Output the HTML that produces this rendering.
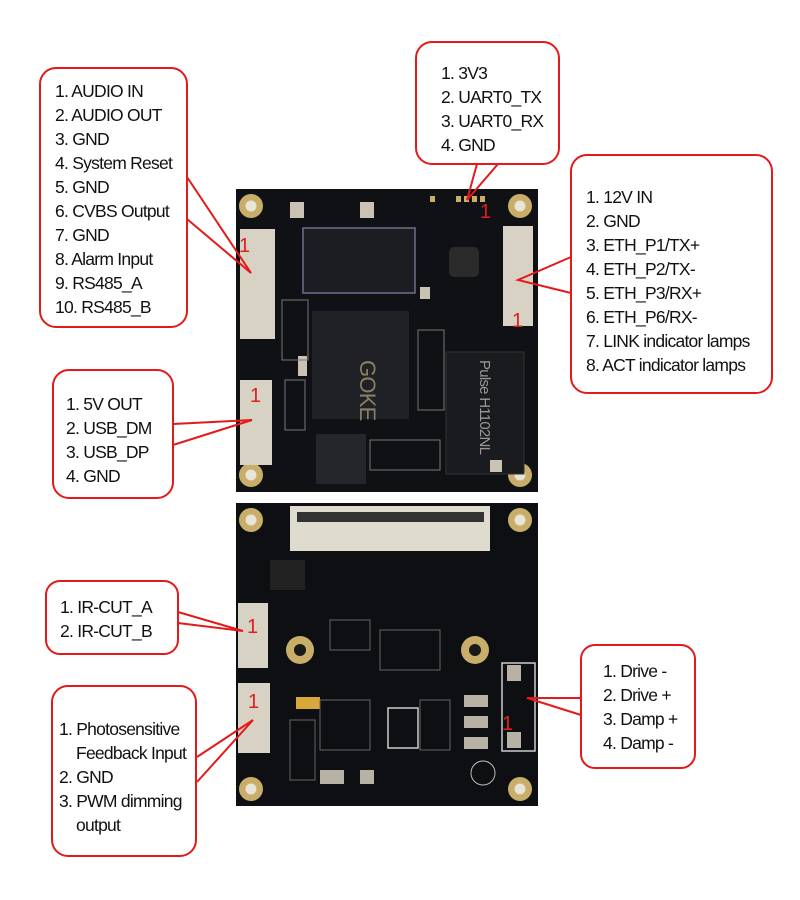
<!DOCTYPE html>
<html><head><meta charset="utf-8"><style>
html,body{margin:0;padding:0;background:#fff;width:800px;height:900px;overflow:hidden}
svg text{font-family:"Liberation Sans",Arial,sans-serif;font-size:17.5px;fill:#111;letter-spacing:-0.75px}
.n{fill:#e02020;font-size:20px;letter-spacing:0}
</style></head><body>
<svg width="800" height="900" viewBox="0 0 800 900" xmlns="http://www.w3.org/2000/svg">
<rect x="236" y="189" width="302" height="303" fill="#101114"/>
<g fill="#c9ae6a"><circle cx="251" cy="206" r="12"/><circle cx="520" cy="206" r="12"/><circle cx="251" cy="475" r="12"/><circle cx="520" cy="475" r="12"/></g>
<g fill="#e8e4d8"><circle cx="251" cy="206" r="5.5"/><circle cx="520" cy="206" r="5.5"/><circle cx="251" cy="475" r="5.5"/><circle cx="520" cy="475" r="5.5"/></g>
<rect x="303" y="228" width="112" height="65" fill="#1c1d22" stroke="#6a7090" stroke-width="1.5"/>
<rect x="312" y="311" width="97" height="108" fill="#202126"/>
<text x="360" y="360" transform="rotate(90 360 360)" style="fill:#8a8060;font-size:22px">GOKE</text>
<rect x="240" y="229" width="35" height="110" fill="#d8d2c4"/>
<rect x="240" y="380" width="32" height="85" fill="#d8d2c4"/>
<rect x="503" y="226" width="30" height="100" fill="#d8d2c4"/>
<rect x="446" y="352" width="78" height="122" fill="#1a1b1f" stroke="#333" />
<text x="480" y="360" transform="rotate(90 480 360)" style="fill:#999;font-size:15px">Pulse H1102NL</text>
<rect x="449" y="247" width="30" height="30" rx="5" fill="#2b2b2b"/>
<rect x="316" y="434" width="50" height="50" fill="#25262b"/>
<g fill="#c9c2b5"><rect x="290" y="202" width="14" height="16"/><rect x="360" y="202" width="14" height="16"/><rect x="420" y="287" width="10" height="12"/><rect x="490" y="460" width="12" height="12"/><rect x="298" y="356" width="9" height="20"/></g>
<g fill="#c9ae6a"><rect x="430" y="196" width="5" height="6"/><rect x="456" y="196" width="5" height="6"/><rect x="464" y="196" width="5" height="6"/><rect x="472" y="196" width="5" height="6"/><rect x="480" y="196" width="5" height="6"/></g>
<g stroke="#777" fill="none" stroke-width="1"><rect x="282" y="300" width="26" height="60"/><rect x="418" y="330" width="26" height="80"/><rect x="370" y="440" width="70" height="30"/><rect x="285" y="380" width="20" height="50"/></g>
<rect x="236" y="503" width="302" height="303" fill="#0e0f12"/>
<g fill="#c9ae6a"><circle cx="251" cy="520" r="12"/><circle cx="520" cy="520" r="12"/><circle cx="251" cy="789" r="12"/><circle cx="520" cy="789" r="12"/><circle cx="300" cy="650" r="14"/><circle cx="475" cy="650" r="14"/></g>
<g fill="#e8e4d8"><circle cx="251" cy="520" r="5.5"/><circle cx="520" cy="520" r="5.5"/><circle cx="251" cy="789" r="5.5"/><circle cx="520" cy="789" r="5.5"/></g>
<g fill="#1a1a1a"><circle cx="300" cy="650" r="6"/><circle cx="475" cy="650" r="6"/></g>
<rect x="290" y="506" width="200" height="45" fill="#e0dbcf"/>
<rect x="297" y="512" width="187" height="10" fill="#333"/>
<rect x="238" y="603" width="30" height="65" fill="#d8d2c4"/>
<rect x="238" y="683" width="32" height="70" fill="#d8d2c4"/>
<rect x="270" y="560" width="35" height="30" fill="#222"/>
<rect x="296" y="697" width="24" height="12" fill="#d9a83a"/>
<rect x="388" y="708" width="30" height="40" fill="none" stroke="#ccc" stroke-width="1.5"/>
<rect x="502" y="663" width="33" height="88" fill="none" stroke="#ccc" stroke-width="1.5"/>
<g fill="#b8b2a4"><rect x="507" y="665" width="14" height="16"/><rect x="507" y="732" width="14" height="16"/><rect x="464" y="695" width="24" height="12"/><rect x="464" y="716" width="24" height="12"/><rect x="464" y="737" width="24" height="12"/><rect x="320" y="770" width="24" height="14"/><rect x="360" y="770" width="14" height="14"/></g>
<circle cx="483" cy="773" r="12" fill="none" stroke="#bbb"/>
<g stroke="#666" fill="none"><rect x="330" y="620" width="40" height="30"/><rect x="380" y="630" width="60" height="40"/><rect x="320" y="700" width="50" height="50"/><rect x="420" y="700" width="30" height="50"/><rect x="290" y="720" width="25" height="60"/></g>
<g><text class="n" x="239" y="252">1</text><text class="n" x="250" y="402">1</text><text class="n" x="480" y="218">1</text><text class="n" x="512" y="327">1</text><text class="n" x="247" y="633">1</text><text class="n" x="248" y="708">1</text><text class="n" x="502" y="730">1</text></g>
<g fill="#fff" stroke="#e41a1a" stroke-width="2" stroke-linejoin="round">
<rect x="40" y="68" width="147" height="259" rx="16"/>
<rect x="416" y="42" width="143" height="122" rx="16"/>
<rect x="571" y="155" width="201" height="238" rx="16"/>
<rect x="53" y="370" width="120" height="128" rx="16"/>
<rect x="46" y="581" width="132" height="73" rx="14"/>
<rect x="52" y="686" width="144" height="170" rx="16"/>
<rect x="581" y="645" width="114" height="123" rx="14"/>
</g>
<g fill="none" stroke="#e41a1a" stroke-width="2">
<polyline points="187,177 251,273 187,219"/>
<polyline points="477,164 467,200 498,164"/>
<polyline points="571,257 518,280 571,293"/>
<polyline points="173,424 252,420 173,445"/>
<polyline points="178,612 243,631 178,623"/>
<polyline points="197,757 253,720 197,782"/>
<polyline points="581,698 527,698 581,715"/>
</g>
<g>
<text x="55" y="97">1. AUDIO IN</text><text x="55" y="121">2. AUDIO OUT</text><text x="55" y="145">3. GND</text><text x="55" y="169">4. System Reset</text><text x="55" y="193">5. GND</text><text x="55" y="217">6. CVBS Output</text><text x="55" y="241">7. GND</text><text x="55" y="265">8. Alarm Input</text><text x="55" y="289">9. RS485_A</text><text x="55" y="313">10. RS485_B</text>
<text x="441" y="79">1. 3V3</text><text x="441" y="103">2. UART0_TX</text><text x="441" y="127">3. UART0_RX</text><text x="441" y="151">4. GND</text>
<text x="586" y="203">1. 12V IN</text><text x="586" y="227">2. GND</text><text x="586" y="251">3. ETH_P1/TX+</text><text x="586" y="275">4. ETH_P2/TX-</text><text x="586" y="299">5. ETH_P3/RX+</text><text x="586" y="323">6. ETH_P6/RX-</text><text x="586" y="347">7. LINK indicator lamps</text><text x="586" y="371">8. ACT indicator lamps</text>
<text x="66" y="410">1. 5V OUT</text><text x="66" y="434">2. USB_DM</text><text x="66" y="458">3. USB_DP</text><text x="66" y="482">4. GND</text>
<text x="60" y="613">1. IR-CUT_A</text><text x="60" y="637">2. IR-CUT_B</text>
<text x="59" y="735">1. Photosensitive</text><text x="76" y="759">Feedback Input</text><text x="59" y="783">2. GND</text><text x="59" y="807">3. PWM dimming</text><text x="76" y="831">output</text>
<text x="603" y="677">1. Drive -</text><text x="603" y="701">2. Drive +</text><text x="603" y="725">3. Damp +</text><text x="603" y="749">4. Damp -</text>
</g>
</svg>
</body></html>
